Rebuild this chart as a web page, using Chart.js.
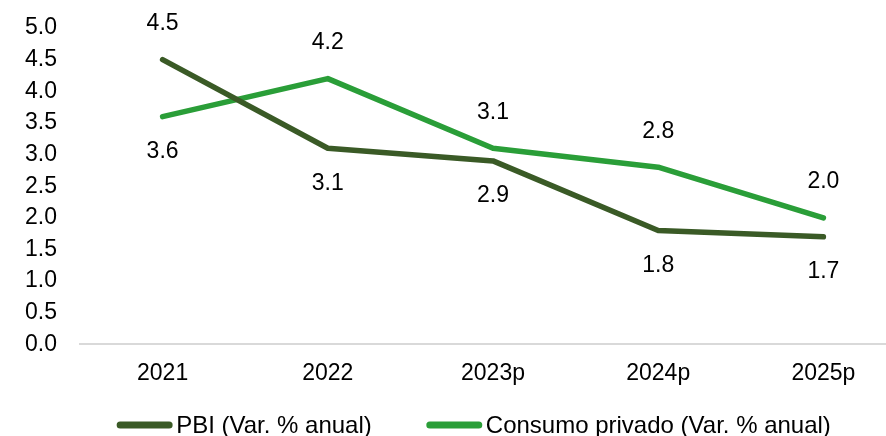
<!DOCTYPE html>
<html>
<head>
<meta charset="utf-8">
<script src="https://cdn.jsdelivr.net/npm/chart.js@4"></script>
<style>
  html, body { margin: 0; padding: 0; background: #fff; overflow: hidden; }
  #wrap { width: 906px; height: 436px; }
</style>
</head>
<body>
<div id="wrap"><canvas id="chart"></canvas></div>
<script>
const years = ['2021', '2022', '2023p', '2024p', '2025p'];
const pbi = [4.5, 3.1, 2.9, 1.8, 1.7];
const consumo = [3.6, 4.2, 3.1, 2.8, 2.0];
const seriesNames = ['PBI (Var. % anual)', 'Consumo privado (Var. % anual)'];

const FONT = "'Liberation Sans', Arial, sans-serif";
const FONT_SIZE = 23;

// etiquetas de valores: arriba si la serie es la mayor en ese año, abajo si no
const valueLabels = {
    id: 'valueLabels',
    afterDatasetsDraw(chart) {
        const ctx = chart.ctx;
        const sets = chart.data.datasets;
        ctx.save();
        ctx.font = FONT_SIZE + 'px ' + FONT;
        ctx.fillStyle = '#000';
        ctx.textAlign = 'center';
        ctx.textBaseline = 'middle';
        sets.forEach((ds, i) => {
            const other = sets[1 - i].data;
            chart.getDatasetMeta(i).data.forEach((pt, j) => {
                const above = ds.data[j] >= other[j];
                const y = above ? pt.y - 36 : pt.y + 35;
                ctx.fillText(ds.data[j].toFixed(1), pt.x, y);
            });
        });
        ctx.restore();
    }
};

// leyenda al estilo Excel: línea corta + texto pegado
const bottomLegend = {
    id: 'bottomLegend',
    afterDraw(chart) {
        const ctx = chart.ctx;
        const sets = chart.data.datasets;
        const boxW = 55, gap = 4, itemGap = 55, y = 425;
        ctx.save();
        ctx.font = '24px ' + FONT;
        ctx.textBaseline = 'middle';
        ctx.textAlign = 'left';
        const widths = sets.map(ds => ctx.measureText(ds.label).width);
        let total = widths.reduce((a, w) => a + boxW + gap + w, 0) + itemGap * (sets.length - 1);
        let x = 474 - total / 2;
        sets.forEach((ds, i) => {
            ctx.strokeStyle = ds.borderColor;
            ctx.lineWidth = 7;
            ctx.lineCap = 'round';
            ctx.beginPath();
            ctx.moveTo(x + 3, y);
            ctx.lineTo(x + boxW - 3, y);
            ctx.stroke();
            ctx.fillStyle = '#000';
            ctx.fillText(ds.label, x + boxW + gap, y + 1);
            x += boxW + gap + widths[i] + itemGap;
        });
        ctx.restore();
    }
};

new Chart(document.getElementById('chart'), {
    type: 'line',
    data: {
        labels: years,
        datasets: [
            { label: seriesNames[0], data: pbi, borderColor: '#3A5A26', backgroundColor: '#3A5A26', borderWidth: 5.5, pointRadius: 0, borderCapStyle: 'round', borderJoinStyle: 'round', tension: 0 },
            { label: seriesNames[1], data: consumo, borderColor: '#2A9E38', backgroundColor: '#2A9E38', borderWidth: 5.5, pointRadius: 0, borderCapStyle: 'round', borderJoinStyle: 'round', tension: 0 }
        ]
    },
    options: {
        responsive: true,
        maintainAspectRatio: false,
        animation: false,
        layout: { padding: { top: 28, left: 0, right: 0, bottom: 34 } },
        scales: {
            x: {
                offset: true,
                grid: { display: false, drawTicks: false },
                border: { display: true, color: '#D9D9D9', width: 2 },
                ticks: { color: '#000', font: { family: FONT, size: FONT_SIZE }, padding: 15, autoSkip: false, maxRotation: 0 }
            },
            y: {
                min: 0, max: 5,
                afterFit(scale) {
                    scale.width = 80;
                    scale.paddingTop = 0;
                    scale.paddingBottom = 0;
                },
                grid: { display: false, drawTicks: false },
                border: { display: false },
                ticks: { stepSize: 0.5, autoSkip: false, color: '#000', font: { family: FONT, size: FONT_SIZE }, padding: 23, callback: v => v.toFixed(1) }
            }
        },
        plugins: {
            legend: { display: false },
            tooltip: { enabled: false }
        }
    },
    plugins: [valueLabels, bottomLegend]
});
</script>
</body>
</html>
